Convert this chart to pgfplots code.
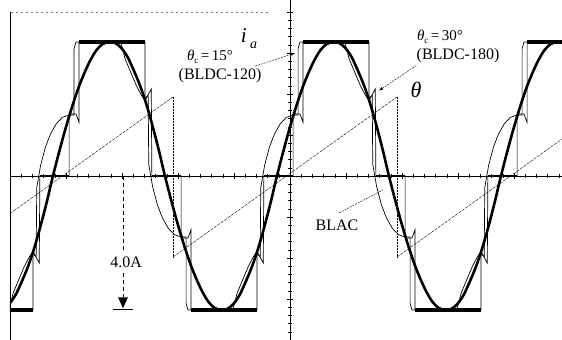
\documentclass[border=0pt]{standalone}
\usepackage{fontspec}
\setmainfont{Liberation Serif}
\usepackage{pgfplots}
\pgfplotsset{compat=1.18}
\usetikzlibrary{arrows.meta}

% x: electrical angle in degrees (0 at the centre graticule line), y: phase current in A
\begin{document}
\begin{tikzpicture}
\begin{axis}[
  scale only axis, width=552bp, height=340bp,
  xmin=-450, xmax=437.1, ymin=-4.896, ymax=5.254,
  axis lines=center, axis line style={-, line width=0.5pt},
  xtick distance=90, ytick distance=1.224,
  minor x tick num=4, minor y tick num=4,
  xticklabels={}, yticklabels={},
  tick align=center, major tick length=6bp, minor tick length=4bp,
  tick style={line width=0.5pt, black},
  clip=true,
]
\coordinate (ll) at (rel axis cs:0,0);
\coordinate (ur) at (rel axis cs:1,1);

% rotor position ramp (theta)
\addplot[black!85, line width=0.5pt, dash pattern=on 3bp off 1.2bp] coordinates {(-450,-1.12) (-188,2.36)};
\addplot[black!85, line width=0.5pt, dash pattern=on 3bp off 1.2bp] coordinates {(-188,-2.42) (172,2.36)};
\addplot[black!85, line width=0.5pt, dash pattern=on 3bp off 1.2bp] coordinates {(172,-2.42) (437,1.10)};
\addplot[black, line width=0.5pt, densely dotted] coordinates {(-188,2.36) (-188,-2.42)};
\addplot[black, line width=0.5pt, densely dotted] coordinates {(172,2.36) (172,-2.42)};

% BLDC-120, theta_c = 15 deg
\addplot[black, line width=0.7pt] coordinates {
(-460,-4.0) (-413,-4.0) (-413,-2.25) (-403,-2.6) (-402,0) (-355,0) (-355,1.85)
(-344,1.85) (-339,1.6) (-339,4.0) (-233,4.0) (-233,2.25) (-223,2.6) (-222,0)
(-175,0) (-175,-1.85) (-164,-1.85) (-159,-1.6) (-159,-4.0) (-53,-4.0) (-53,-2.25)
(-43,-2.6) (-42,0) (5,0) (5,1.85) (16,1.85) (21,1.6) (21,4.0) (127,4.0) (127,2.25)
(137,2.6) (138,0) (185,0) (185,-1.85) (196,-1.85) (201,-1.6) (201,-4.0) (307,-4.0)
(307,-2.25) (317,-2.6) (318,0) (365,0) (365,1.85) (376,1.85) (381,1.6) (381,4.0) (460,4.0)};

% BLDC-180, theta_c = 30 deg
\addplot[black, line width=0.7pt] coordinates {
(-452,-4.0) (-445,-3.5) (-435,-3.05) (-427,-2.7) (-420,-2.45) (-415,-2.3) (-408,-2.4)
(-407,-0.35) (-401,0.3) (-393,0.87) (-385,1.25) (-376,1.55) (-366,1.75) (-355,1.82)
(-347,1.82) (-347,3.8) (-344,4.0) (-272,4.0) (-265,3.5) (-255,3.05) (-247,2.7)
(-240,2.45) (-235,2.3) (-228,2.4) (-227,0.35) (-221,-0.3) (-213,-0.87) (-205,-1.25)
(-196,-1.55) (-186,-1.75) (-175,-1.82) (-167,-1.82) (-167,-3.8) (-164,-4.0)
(-92,-4.0) (-85,-3.5) (-75,-3.05) (-67,-2.7) (-60,-2.45) (-55,-2.3) (-48,-2.4)
(-47,-0.35) (-41,0.3) (-33,0.87) (-25,1.25) (-16,1.55) (-6,1.75) (5,1.82) (13,1.82)
(13,3.8) (16,4.0) (88,4.0) (95,3.5) (105,3.05) (113,2.7) (120,2.45) (125,2.3)
(132,2.4) (133,0.35) (139,-0.3) (147,-0.87) (155,-1.25) (164,-1.55) (174,-1.75)
(185,-1.82) (193,-1.82) (193,-3.8) (196,-4.0) (268,-4.0) (275,-3.5) (285,-3.05)
(293,-2.7) (300,-2.45) (305,-2.3) (312,-2.4) (313,-0.35) (319,0.3) (327,0.87)
(335,1.25) (344,1.55) (354,1.75) (365,1.82) (373,1.82) (373,3.8) (376,4.0) (448,4.0)};

% noisy current-limited plateaus
\addplot[black, line width=3.5pt] coordinates {(-339,4.0) (-233,4.0)};
\addplot[black, line width=3.5pt] coordinates {(21,4.0) (127,4.0)};
\addplot[black, line width=3.5pt] coordinates {(381,4.0) (445,4.0)};
\addplot[black, line width=3.5pt] coordinates {(-460,-4.0) (-413,-4.0)};
\addplot[black, line width=3.5pt] coordinates {(-159,-4.0) (-53,-4.0)};
\addplot[black, line width=3.5pt] coordinates {(201,-4.0) (307,-4.0)};
\addplot[black, line width=2pt] coordinates {(-402,0) (-355,0)};
\addplot[black, line width=2pt] coordinates {(-222,0) (-175,0)};
\addplot[black, line width=2pt] coordinates {(-42,0) (5,0)};
\addplot[black, line width=2pt] coordinates {(138,0) (185,0)};
\addplot[black, line width=2pt] coordinates {(318,0) (365,0)};

% BLAC
\addplot[black, line width=2.6pt, smooth] coordinates {
(-451,-3.82) (-441,-3.55) (-431,-3.15) (-421,-2.7) (-411,-2.15) (-401,-1.5) (-391,-0.78)
(-381,0) (-371,0.72) (-361,1.4) (-351,2.02) (-341,2.58) (-331,3.05) (-321,3.45)
(-311,3.76) (-301,3.94) (-291,4.0) (-281,3.97) (-271,3.82) (-261,3.55) (-251,3.15)
(-241,2.7) (-231,2.15) (-221,1.5) (-211,0.78) (-201,0) (-191,-0.72) (-181,-1.4)
(-171,-2.02) (-161,-2.58) (-151,-3.05) (-141,-3.45) (-131,-3.76) (-121,-3.94)
(-111,-4.0) (-101,-3.97) (-91,-3.82) (-81,-3.55) (-71,-3.15) (-61,-2.7) (-51,-2.15)
(-41,-1.5) (-31,-0.78) (-21,0) (-11,0.72) (-1,1.4) (9,2.02) (19,2.58) (29,3.05)
(39,3.45) (49,3.76) (59,3.94) (69,4.0) (79,3.97) (89,3.82) (99,3.55) (109,3.15)
(119,2.7) (129,2.15) (139,1.5) (149,0.78) (159,0) (169,-0.72) (179,-1.4) (189,-2.02)
(199,-2.58) (209,-3.05) (219,-3.45) (229,-3.76) (239,-3.94) (249,-4.0) (259,-3.97)
(269,-3.82) (279,-3.55) (289,-3.15) (299,-2.7) (309,-2.15) (319,-1.5) (329,-0.78)
(339,0) (349,0.72) (359,1.4) (369,2.02) (379,2.58) (389,3.05) (399,3.45) (409,3.76)
(419,3.94) (429,4.0) (439,3.97)};

% graticule frame
\draw[line width=0.7pt] (axis cs:-449,4.896) -- (axis cs:-449,-4.896);
\draw[gray, line width=0.5pt, dash pattern=on 2bp off 3bp] (axis cs:-449,4.896) -- (axis cs:-32,4.896);

% 4.0 A scale marker
\draw[line width=0.5pt, dash pattern=on 4bp off 3bp] (axis cs:-268.4,0) -- (axis cs:-268.4,-2.25);
\draw[line width=0.5pt, dash pattern=on 4bp off 3bp] (axis cs:-268.4,-2.9) -- (axis cs:-268.4,-3.62);
\fill (axis cs:-276.4,-3.62) -- (axis cs:-260.4,-3.62) -- (axis cs:-268.4,-3.95) -- cycle;
\draw[line width=0.8pt] (axis cs:-284.4,-3.98) -- (axis cs:-252.3,-3.98);
\node[font=\fontsize{16bp}{18bp}\selectfont] at (axis cs:-263.5,-2.57) {4.0A};

% labels and leaders
\node[font=\fontsize{21bp}{22bp}\selectfont\itshape] at (axis cs:-66,4.1)
  {i\,\raisebox{-0.3em}{\fontsize{14bp}{14bp}\selectfont a}};
\node[font=\fontsize{15bp}{16bp}\selectfont] at (axis cs:-128.6,3.55)
  {\textit{θ}\raisebox{-0.2em}{\fontsize{9bp}{9bp}\selectfont c}\,=\,15°};
\node[font=\fontsize{16bp}{18bp}\selectfont] at (axis cs:-112.5,3.0) {(BLDC-120)};
\node[font=\fontsize{15bp}{16bp}\selectfont] at (axis cs:241,4.16)
  {\textit{θ}\raisebox{-0.2em}{\fontsize{9bp}{9bp}\selectfont c}\,=\,30°};
\node[font=\fontsize{16bp}{18bp}\selectfont] at (axis cs:270,3.6) {(BLDC-180)};
\node[font=\fontsize{22bp}{24bp}\selectfont\itshape] at (axis cs:202.5,2.57) {θ};
\node[font=\fontsize{16bp}{18bp}\selectfont] at (axis cs:75.5,-1.46) {BLAC};

\draw[line width=0.4pt, dash pattern=on 2bp off 1bp, -{Latex[length=4bp,width=3bp]}]
  (axis cs:-56,3.28) -- (axis cs:8,3.67);
\draw[line width=0.4pt, dash pattern=on 2bp off 1bp, -{Latex[length=4bp,width=3bp]}]
  (axis cs:203,3.3) -- (axis cs:143,2.55);
\draw[line width=0.4pt, dash pattern=on 2bp off 1bp] (axis cs:79,-1.10) -- (axis cs:149,-0.42);
\end{axis}
\pgfresetboundingbox
\path (ll) ++(-10bp,0) rectangle (ur);
\end{tikzpicture}
\end{document}
